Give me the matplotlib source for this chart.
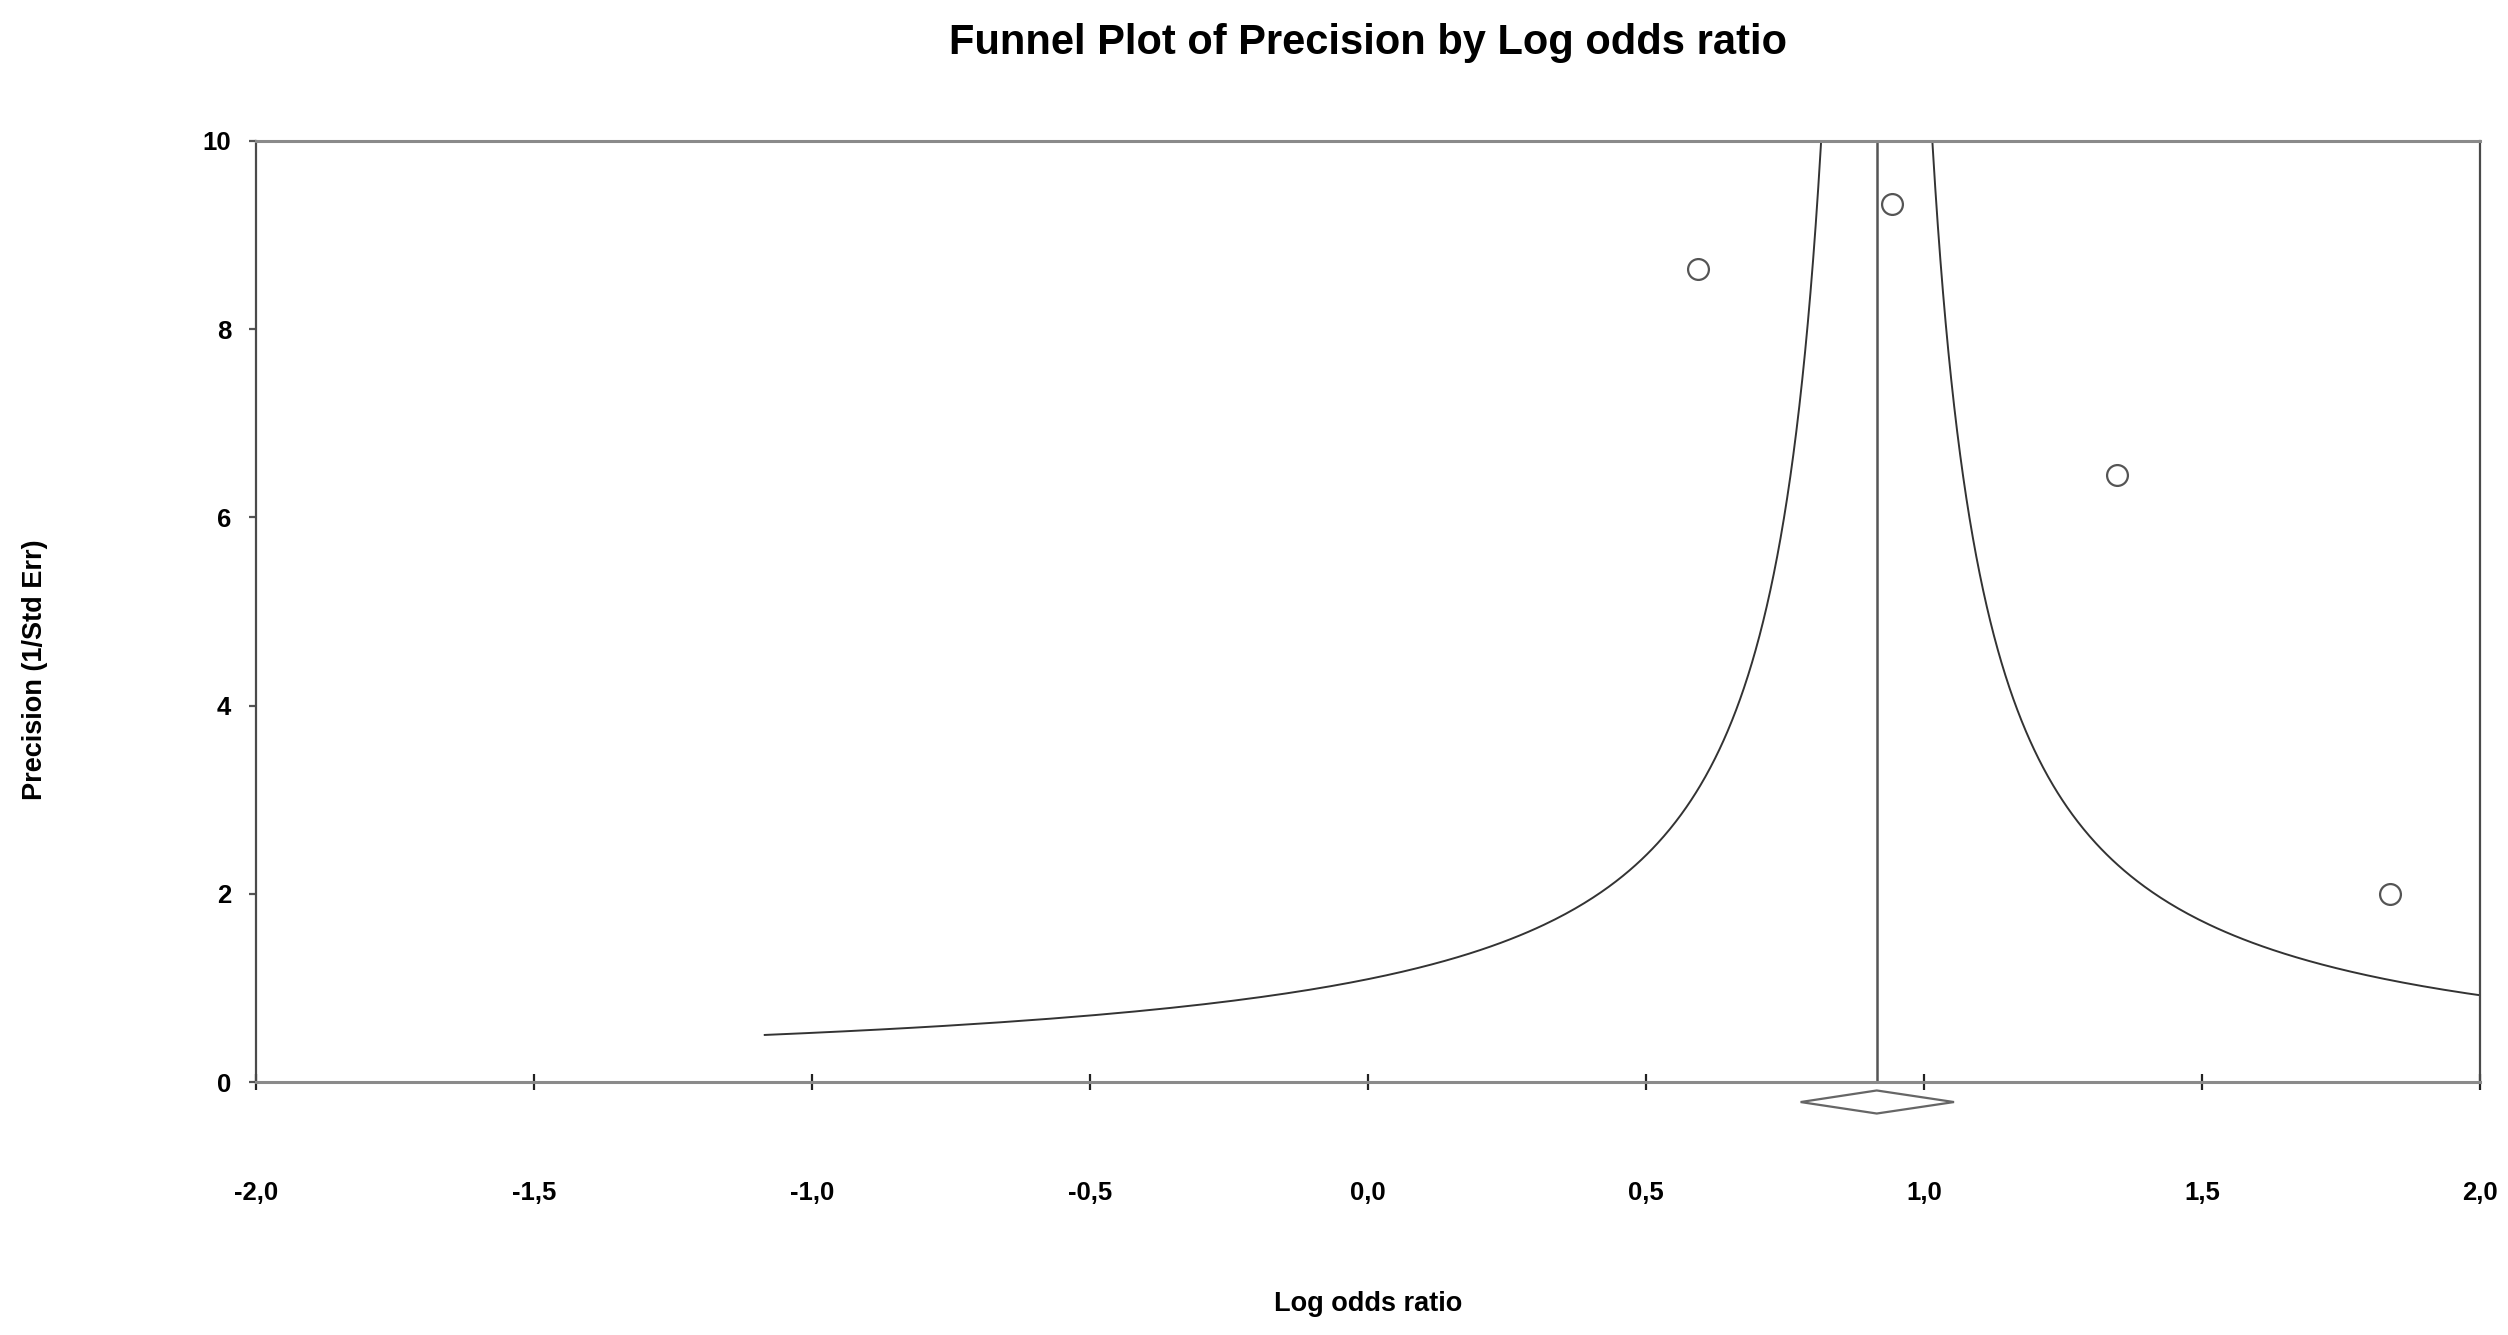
import numpy as np
import matplotlib
matplotlib.use("Agg")
import matplotlib.pyplot as plt

plt.rcParams['font.family'] = ['Liberation Sans', 'DejaVu Sans']
plt.rcParams['font.weight'] = 'bold'

# study estimates (log odds ratio, precision = 1/SE)
log_or = [0.593, 0.943, 1.347, 1.838]
precision = [8.64, 9.33, 6.45, 2.00]

# pooled estimate and its CI (diamond)
pooled = 0.915
ci_low = 0.778
ci_high = 1.054
funnel_k = 1.0

xticks = [-2.0, -1.5, -1.0, -0.5, 0.0, 0.5, 1.0, 1.5, 2.0]
xtick_labels = ["-2,0", "-1,5", "-1,0", "-0,5", "0,0", "0,5", "1,0", "1,5", "2,0"]
yticks = [0, 2, 4, 6, 8, 10]

fig = plt.figure(figsize=(25.08, 13.35), dpi=100)
ax = fig.add_axes([256/2508, 1 - 1082/1335, 2224/2508, 941/1335])

# funnel
p = np.linspace(0.5, 12, 600)
ax.plot(pooled - funnel_k / p, p, color='#333333', lw=1.4)
ax.plot(pooled + funnel_k / p, p, color='#333333', lw=1.4)

# pooled line
ax.plot([pooled, pooled], [0, 10], color='#555555', lw=1.8)

# studies
ax.plot(log_or, precision, 'o', ms=15, mfc='white', mec='#555555', mew=1.6)

# diamond below the axis
dy_top, dy_mid, dy_bot = -0.09, -0.213, -0.335
ax.fill([ci_low, pooled, ci_high, pooled], [dy_mid, dy_top, dy_mid, dy_bot],
        facecolor='white', edgecolor='#666666', lw=1.6, clip_on=False, zorder=5)

ax.set_xlim(-2, 2)
ax.set_ylim(0, 10)
ax.set_xticks(xticks)
ax.set_xticklabels(xtick_labels)
ax.set_yticks(yticks)
ax.set_yticklabels([str(v) for v in yticks])

ax.tick_params(axis='x', direction='inout', length=12, width=1.6, color='#222222',
               pad=65, labelsize=18.5)
ax.tick_params(axis='y', direction='out', length=5, width=1.6, color='#555555',
               pad=13, labelsize=18.5)
for lab in ax.get_xticklabels() + ax.get_yticklabels():
    lab.set_fontweight('bold')

for side in ['top', 'bottom']:
    ax.spines[side].set_color('#8a8a8a')
    ax.spines[side].set_linewidth(2.2)
for side in ['left', 'right']:
    ax.spines[side].set_color('#4a4a4a')
    ax.spines[side].set_linewidth(1.6)

fig.text(1368/2508, 1 - 43/1335, "Funnel Plot of Precision by Log odds ratio",
         ha='center', va='center', fontsize=30, fontweight='bold')
fig.text(1368/2508, 1 - 1304/1335, "Log odds ratio",
         ha='center', va='center', fontsize=19.5, fontweight='bold')
fig.text(35/2508, 1 - 670/1335, "Precision (1/Std Err)", rotation=90,
         ha='center', va='center', fontsize=19.5, fontweight='bold')

fig.savefig('out.png', dpi=100)
